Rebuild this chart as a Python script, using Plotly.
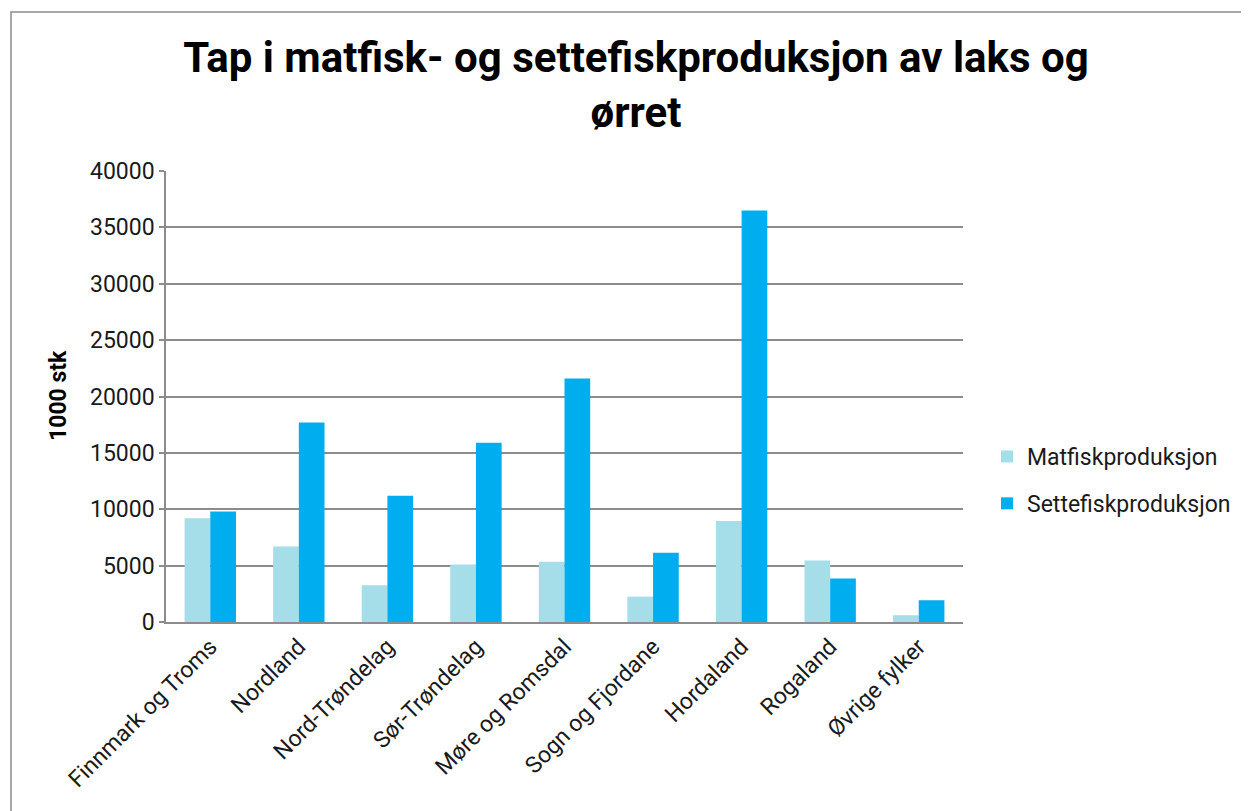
import plotly.graph_objects as go

# data (1000 stk)
fylker = [
    "Finnmark og Troms", "Nordland", "Nord-Trøndelag", "Sør-Trøndelag",
    "Møre og Romsdal", "Sogn og Fjordane", "Hordaland", "Rogaland", "Øvrige fylker",
]
matfisk = [9200, 6700, 3250, 5100, 5350, 2250, 8950, 5450, 600]
settefisk = [9800, 17700, 11200, 15900, 21600, 6150, 36500, 3850, 1930]
y_ticks = [0, 5000, 10000, 15000, 20000, 25000, 30000, 35000, 40000]

MAT_COLOR = "#a5dde9"
SETTE_COLOR = "#00adee"
GRID = "#8c8c8c"
TEXT = "#1a1a1a"
FONT = "Roboto"

W, H = 1249, 811
OFF = 8  # page offset of the figure in the screenshot

# plot area in screenshot pixels: x 166..963, y 171..622
L, T = 166 - OFF, 171 - OFF
R, B = W - (963 - OFF), H - (622 - OFF)
pw, ph = W - L - R, H - T - B


def px_x(x):
    # screenshot x -> paper coordinate
    return (x - OFF - L) / pw


def px_y(y):
    # screenshot y -> paper coordinate
    return (H - B - (y - OFF)) / ph


fig = go.Figure()
fig.add_trace(go.Bar(x=fylker, y=matfisk, name="Matfiskproduksjon", legendgroup="mat",
                     marker=dict(color=MAT_COLOR, line=dict(width=0))))
fig.add_trace(go.Bar(x=fylker, y=settefisk, name="Settefiskproduksjon", legendgroup="sette",
                     marker=dict(color=SETTE_COLOR, line=dict(width=0))))

fig.update_layout(
    width=W, height=H,
    margin=dict(l=L, r=R, t=T, b=B, autoexpand=False),
    paper_bgcolor="white", plot_bgcolor="white",
    font=dict(family=FONT, color=TEXT, size=22),
    barmode="group", bargap=0.42, bargroupgap=0,
    showlegend=True,
    legend=dict(x=px_x(987), y=px_y(480), xanchor="left", yanchor="middle",
                font=dict(size=23), itemwidth=30, tracegroupgap=14,
                bgcolor="rgba(0,0,0,0)"),
    title=dict(text="Tap i matfisk- og settefiskproduksjon av laks og<br>ørret",
               x=px_x(636), xref="paper", xanchor="center",
               y=1 - 64 / H, yref="container", yanchor="middle",
               font=dict(family=FONT, size=42, weight="bold", color="black")),
    xaxis=dict(tickangle=-45, tickfont=dict(size=23), showgrid=False,
               showline=True, linecolor=GRID, linewidth=2, ticks=""),
    yaxis=dict(range=[0, 40000], tickvals=y_ticks, ticktext=[str(v) for v in y_ticks],
               tickfont=dict(size=23), showgrid=True, gridcolor=GRID, gridwidth=1.5,
               zeroline=False, showline=True, linecolor=GRID, linewidth=1.5,
               ticks="outside", ticklen=5, tickcolor=GRID, tickwidth=1.5),
    annotations=[dict(text="<b>1000 stk</b>", textangle=-90, x=px_x(58), y=px_y(396),
                      xref="paper", yref="paper", xanchor="center", yanchor="middle",
                      showarrow=False, font=dict(size=23, color="black"))],
    shapes=[dict(type="rect", xref="paper", yref="paper",
                 x0=px_x(11), x1=px_x(1262), y0=px_y(830), y1=px_y(12),
                 line=dict(color="#8c8c8c", width=1.5), layer="below")],
)

fig.write_html("out.html")
